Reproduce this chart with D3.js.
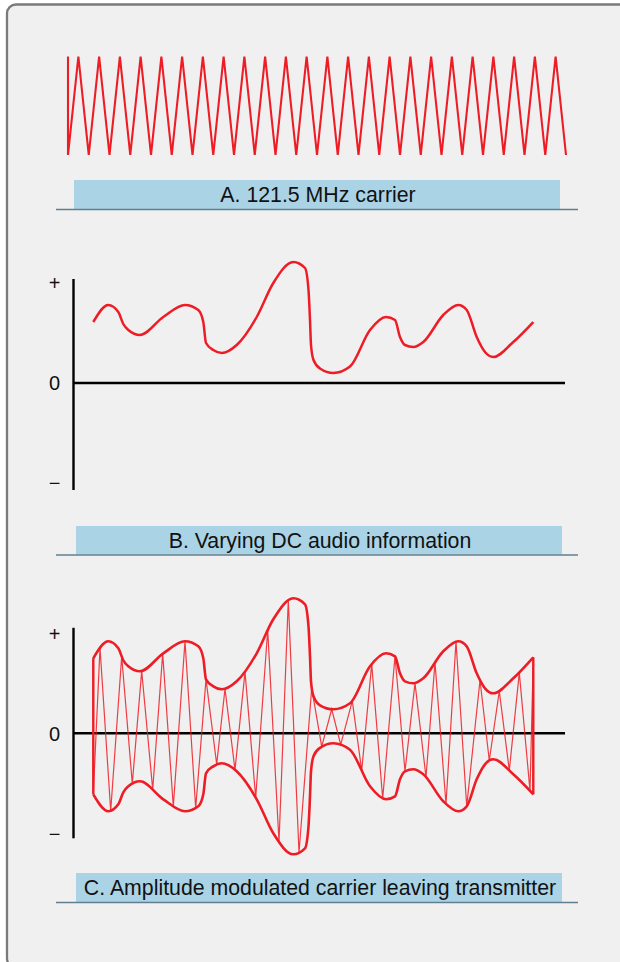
<!DOCTYPE html>
<html>
<head>
<meta charset="utf-8">
<script src="https://cdn.jsdelivr.net/npm/d3@7"></script>
<style>
  html, body { margin: 0; padding: 0; background: #ffffff; overflow: hidden; }
  svg { display: block; }
  text { font-family: "Liberation Sans", Arial, Helvetica, sans-serif; fill: #111; }
</style>
</head>
<body>
<div id="chart"></div>
<script>
// ---------------- DATA ----------------
// Panel A: 121.5 MHz carrier (half-period index, level)
const carrierTimes = [0,0,1,2,3,4,5,6,7,8,9,10,11,12,13,14,15,16,17,18,19,20,21,22,23,24,25,26,27,28,29,30,31,32,33,34,35,36,37,38,39,40,41,42,43,44,45,46,47,48];
const carrierLevels = [1,-1,1,-1,1,-1,1,-1,1,-1,1,-1,1,-1,1,-1,1,-1,1,-1,1,-1,1,-1,1,-1,1,-1,1,-1,1,-1,1,-1,1,-1,1,-1,1,-1,1,-1,1,-1,1,-1,1,-1,1,-1];

// Panel B: varying DC audio information (time, level)
const audioTimes = [27.3, 42.3, 52.3, 57.3, 62.3, 74, 97.3, 119, 132.3, 137.3, 140, 147.3, 155.7, 170.7, 190.7, 207.3, 227.3, 239, 242.5, 244, 245, 247.5, 254, 267.3, 284, 304, 320, 329, 334, 339, 347.3, 357.3, 377.3, 392.3, 400.7, 410.7, 419, 427.3, 447.3, 467.3];
const audioValues = [0.61, 0.78, 0.71, 0.59, 0.53, 0.48, 0.66, 0.78, 0.73, 0.61, 0.40, 0.33, 0.30, 0.38, 0.66, 1.00, 1.21, 1.15, 0.93, 0.63, 0.38, 0.23, 0.145, 0.10, 0.165, 0.53, 0.66, 0.63, 0.46, 0.38, 0.36, 0.41, 0.68, 0.78, 0.73, 0.46, 0.31, 0.26, 0.41, 0.61];

// Panel C: amplitude-modulated carrier envelopes (same time base)
const envelopeUpper = [0.75, 0.92, 0.85, 0.73, 0.67, 0.62, 0.80, 0.92, 0.87, 0.75, 0.54, 0.47, 0.44, 0.52, 0.80, 1.14, 1.35, 1.29, 1.07, 0.77, 0.52, 0.37, 0.28, 0.24, 0.30, 0.67, 0.80, 0.77, 0.60, 0.52, 0.50, 0.55, 0.82, 0.92, 0.87, 0.60, 0.45, 0.40, 0.55, 0.76];
const envelopeLower = [-0.61, -0.78, -0.71, -0.59, -0.53, -0.48, -0.66, -0.78, -0.73, -0.61, -0.40, -0.33, -0.30, -0.38, -0.66, -1.00, -1.21, -1.15, -0.93, -0.63, -0.38, -0.23, -0.145, -0.10, -0.165, -0.53, -0.66, -0.63, -0.46, -0.38, -0.36, -0.41, -0.68, -0.78, -0.73, -0.46, -0.31, -0.26, -0.41, -0.61];

// Panel C: carrier swing instants and the envelope they touch (+1 upper, -1 lower)
const modTimes = [27.3, 27.3, 34, 44.7, 55.7, 66.3, 75.7, 86.7, 96.7, 107.3, 119, 129.7, 140, 150.7, 159, 169, 179, 189.7, 201.7, 213, 222.3, 233, 245.7, 255.7, 265.7, 274.7, 286.3, 295.7, 305.7, 316.7, 329, 339, 349, 360, 369, 380, 390, 400.7, 414, 423.3, 433.3, 443.3, 453.3, 464, 467.3, 467.3];
const modSides = [1,-1,1,-1,1,-1,1,-1,1,-1,1,-1,1,-1,1,-1,1,-1,1,-1,1,-1,1,-1,1,-1,1,-1,1,-1,1,-1,1,-1,1,-1,1,-1,1,-1,1,-1,1,-1,1,-1];

// Axis tick labels
const tickValues = [1, 0, -1];
const tickLabels = ["+", "0", "\u2212"];

// Panel captions
const captions = ["A. 121.5 MHz carrier", "B. Varying DC audio information", "C. Amplitude modulated carrier leaving transmitter"];

// ---------------- DRAWING ----------------
const W = 620, H = 962;
const RED = "#ee1c25";
const svg = d3.select("#chart").append("svg").attr("width", W).attr("height", H);

// frame (runs off the right and bottom edges)
svg.append("rect").attr("x", 7).attr("y", 4.5).attr("width", 700).attr("height", 963)
  .attr("rx", 9).attr("fill", "#f0f0f0").attr("stroke", "#7a7a7a").attr("stroke-width", 2.3);

// ----- Panel A -----
const xA = d3.scaleLinear().domain([0, 48]).range([68, 566]);
const yA = d3.scaleLinear().domain([-1, 1]).range([155, 56.5]);
const carrierData = carrierTimes.map((t, i) => ({t, v: carrierLevels[i]}));
svg.append("path").datum(carrierData)
  .attr("d", d3.line().x(d => xA(d.t)).y(d => yA(d.v)).curve(d3.curveLinear))
  .attr("fill", "none").attr("stroke", RED).attr("stroke-width", 2.1).attr("stroke-linejoin", "miter");

// Shared time scale for B and C
const x = d3.scaleLinear().domain([0, 500]).range([66, 566]);

function caption(txt, boxX0, boxX1, boxY0, boxY1, lineX0, lineX1) {
  const g = svg.append("g");
  g.append("rect").attr("x", boxX0).attr("y", boxY0).attr("width", boxX1 - boxX0).attr("height", boxY1 - boxY0)
    .attr("fill", "#aad3e6");
  g.append("line").attr("x1", lineX0).attr("x2", lineX1).attr("y1", boxY1 + 0.5).attr("y2", boxY1 + 0.5)
    .attr("stroke", "#617f91").attr("stroke-width", 1.6);
  g.append("text").attr("x", (boxX0 + boxX1) / 2 + 1).attr("y", boxY1 - 7)
    .attr("text-anchor", "middle").attr("font-size", 21.3).text(txt);
}
caption(captions[0], 74, 560, 180, 209, 56, 578);

function axes(yS, top, bottom) {
  const g = svg.append("g");
  g.append("line").attr("x1", 73.5).attr("x2", 73.5).attr("y1", yS(top)).attr("y2", yS(bottom))
    .attr("stroke", "#000").attr("stroke-width", 2.4);
  g.append("line").attr("x1", 73.5).attr("x2", x(499)).attr("y1", yS(0)).attr("y2", yS(0))
    .attr("stroke", "#000").attr("stroke-width", 2.6);
  g.selectAll("text.tick").data(tickValues).enter().append("text")
    .attr("class", "tick")
    .attr("x", 54.5).attr("y", d => yS(d))
    .attr("dy", "0.36em")
    .attr("text-anchor", "middle").attr("font-size", 20)
    .text((d, i) => tickLabels[i]);
}

// ----- Panel B -----
const yB = d3.scaleLinear().domain([-1, 1]).range([483, 283]);
axes(yB, 1.04, -1.07);
const audioData = audioTimes.map((t, i) => ({t, v: audioValues[i]}));
svg.append("path").datum(audioData)
  .attr("d", d3.line().x(d => x(d.t)).y(d => yB(d.v)).curve(d3.curveMonotoneX))
  .attr("fill", "none").attr("stroke", RED).attr("stroke-width", 2.5);
caption(captions[1], 76, 562, 526, 554.5, 56, 578);

// ----- Panel C -----
const yC = d3.scaleLinear().domain([-1, 1]).range([833.3, 633.3]);
axes(yC, 1.055, -1.05);
const upperData = audioTimes.map((t, i) => ({t, v: envelopeUpper[i]}));
const lowerData = audioTimes.map((t, i) => ({t, v: envelopeLower[i]}));
const envLine = d3.line().x(d => x(d.t)).y(d => yC(d.v)).curve(d3.curveMonotoneX);

const gC = svg.append("g");
const zig = gC.append("path");  // placed below envelopes
const edges = gC.append("g");
const upPath = gC.append("path").datum(upperData).attr("d", envLine)
  .attr("fill", "none").attr("stroke", RED).attr("stroke-width", 2.6);
const loPath = gC.append("path").datum(lowerData).attr("d", envLine)
  .attr("fill", "none").attr("stroke", RED).attr("stroke-width", 2.6);

// sample envelope paths to find the y at a given x
function sampler(pathNode) {
  const L = pathNode.getTotalLength();
  const pts = [];
  for (let s = 0; s <= L; s += 0.25) pts.push(pathNode.getPointAtLength(s));
  return function(px) {
    let best = pts[0], bd = Infinity;
    for (const p of pts) { const d = Math.abs(p.x - px); if (d < bd) { bd = d; best = p; } }
    return best.y;
  };
}
const upAt = sampler(upPath.node());
const loAt = sampler(loPath.node());

const modPts = modTimes.map((t, i) => {
  const px = x(t);
  return [px, modSides[i] > 0 ? upAt(px) : loAt(px)];
});
zig.attr("d", d3.line().curve(d3.curveLinear)(modPts))
  .attr("fill", "none").attr("stroke", RED).attr("stroke-width", 1.2).attr("stroke-opacity", 0.85)
  .attr("stroke-linejoin", "miter");

// thick edges at start and end of the modulated burst
[modTimes[0], modTimes[modTimes.length - 1]].forEach(t => {
  const px = x(t);
  edges.append("line").attr("x1", px).attr("x2", px).attr("y1", upAt(px)).attr("y2", loAt(px))
    .attr("stroke", RED).attr("stroke-width", 2.4);
});

caption(captions[2], 76, 562, 873, 902, 56, 578);
</script>
</body>
</html>
